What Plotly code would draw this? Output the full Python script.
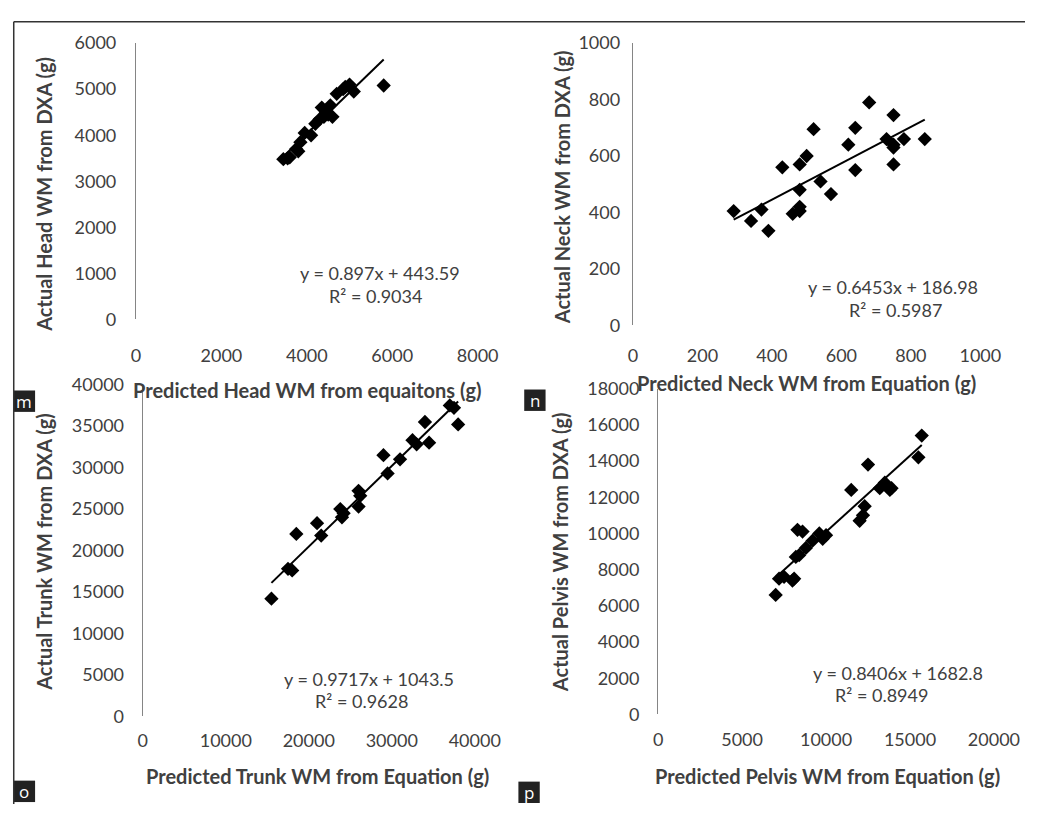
import plotly.graph_objects as go

W, H = 1051, 814

# ---------------- data ----------------
head_pred = [3450, 3550, 3600, 3750, 3800, 3850, 3950, 4100, 4200, 4300, 4350, 4400, 4450, 4500, 4550, 4600, 4700, 4850, 4900, 5000, 5100, 5800]
head_act = [3480, 3500, 3520, 3700, 3650, 3850, 4050, 4000, 4250, 4350, 4600, 4400, 4500, 4450, 4650, 4400, 4900, 5000, 5050, 5100, 4950, 5080]

neck_pred = [290, 340, 370, 390, 430, 460, 480, 480, 480, 480, 500, 520, 540, 570, 620, 640, 640, 680, 730, 750, 750, 750, 750, 780, 840]
neck_act = [405, 370, 410, 335, 560, 395, 480, 420, 405, 570, 600, 695, 510, 465, 640, 700, 550, 790, 660, 745, 640, 630, 570, 660, 660]

trunk_pred = [15500, 17500, 18000, 18500, 21000, 21500, 23800, 24000, 24200, 26000, 26000, 26200, 29000, 29500, 31000, 32500, 33000, 34000, 34500, 37000, 37500, 38000]
trunk_act = [14200, 17800, 17600, 22000, 23300, 21800, 25000, 24000, 24500, 27200, 25300, 26600, 31500, 29300, 31000, 33300, 32800, 35500, 33000, 37500, 37200, 35200]

pelvis_pred = [7000, 7200, 7500, 8000, 8100, 8200, 8300, 8400, 8600, 8800, 9200, 9600, 9800, 10000, 11500, 12000, 12200, 12300, 12500, 13200, 13500, 13800, 13900, 15500, 15700]
pelvis_act = [6600, 7500, 7600, 7400, 7500, 8700, 10200, 8800, 10100, 9200, 9600, 10000, 9700, 9900, 12400, 10700, 11000, 11500, 13800, 12500, 12800, 12400, 12500, 14200, 15400]

slopes = [0.897, 0.6453, 0.9717, 0.8406]
intercepts = [443.59, 186.98, 1043.5, 1682.8]
eq_texts = ["y = 0.897x + 443.59", "y = 0.6453x + 186.98", "y = 0.9717x + 1043.5", "y = 0.8406x + 1682.8"]
r2_texts = ["R² = 0.9034", "R² = 0.5987", "R² = 0.9628", "R² = 0.8949"]

x_titles = ["Predicted Head WM from equaitons (g)", "Predicted Neck WM from Equation (g)",
            "Predicted Trunk WM from Equation (g)", "Predicted Pelvis WM from Equation (g)"]
y_titles = ["Actual Head WM from DXA (g)", "Actual Neck WM from DXA (g)",
            "Actual Trunk WM from DXA (g)", "Actual Pelvis WM from DXA (g)"]
panel_tags = ["m", "n", "o", "p"]

x_ranges = [(0, 8000, 2000), (0, 1000, 200), (0, 40000, 10000), (0, 20000, 5000)]
y_ranges = [(0, 6000, 1000), (0, 1000, 200), (0, 40000, 5000), (0, 18000, 2000)]

xs = [head_pred, neck_pred, trunk_pred, pelvis_pred]
ys = [head_act, neck_act, trunk_act, pelvis_act]

# ---------------- layout geometry (pixels) ----------------
# (x0_px, x1_px, ybottom_px, ytop_px)
boxes = [(135, 487, 316, 32), (647, 1005, 322, 32), (142, 484, 724, 383), (673, 1019, 722, 387)]
x_standoff = [24, 18, 12, 13]
y_standoff = [15, 8, 14, 14]
ytitle_pos = [(40, 187), (574, 180), (40, 555), (572, 555)]
xtitle_pos = [(311, 388), (826, 381), (322, 785), (848, 785)]
eq_pos = [(386, 268), (915, 283), (375, 686), (920, 679)]
r2_pos = [(382, 292), (918, 306), (367, 708), (903, 702)]
tag_pos = [(20, 400), (546, 399), (20, 801), (540, 802)]

TXT = "#404040"
FONT = "Lato"

fig = go.Figure()
layout = dict(width=W, height=H, margin=dict(l=0, r=0, t=0, b=0),
              paper_bgcolor="white", plot_bgcolor="white", showlegend=False)

annotations = []
shapes = []

def px(x):
    return x / W

def py(y):
    return 1 - y / H

for i in range(4):
    sfx = "" if i == 0 else str(i + 1)
    xa, ya = "x" + sfx, "y" + sfx
    x0, x1, yb, yt = boxes[i]
    xr, yr = x_ranges[i], y_ranges[i]
    layout["xaxis" + sfx] = dict(domain=[px(x0), px(x1)], range=[xr[0], xr[1]], anchor=ya,
                                 tickmode="linear", tick0=xr[0], dtick=xr[2], tickformat="d",
                                 showgrid=False, zeroline=False, showline=False, ticks="",
                                 tickfont=dict(family=FONT, size=18, color=TXT),
                                 ticklabelstandoff=x_standoff[i])
    layout["yaxis" + sfx] = dict(domain=[py(yb), py(yt)], range=[yr[0], yr[1]], anchor=xa,
                                 tickmode="linear", tick0=yr[0], dtick=yr[2], tickformat="d",
                                 showgrid=False, zeroline=False, showline=True, linecolor="#858585",
                                 linewidth=1.3, ticks="",
                                 tickfont=dict(family=FONT, size=18, color=TXT),
                                 ticklabelstandoff=y_standoff[i])
    fig.add_trace(go.Scatter(x=xs[i], y=ys[i], mode="markers", xaxis=xa, yaxis=ya,
                             marker=dict(symbol="diamond", size=11, color="black")))
    lx = [min(xs[i]), max(xs[i])]
    ly = [slopes[i] * v + intercepts[i] for v in lx]
    fig.add_trace(go.Scatter(x=lx, y=ly, mode="lines", xaxis=xa, yaxis=ya,
                             line=dict(color="black", width=2)))
    annotations.append(dict(x=px(ytitle_pos[i][0]), y=py(ytitle_pos[i][1]), xref="paper", yref="paper",
                            xanchor="center", yanchor="middle",
                            text="<b>" + y_titles[i] + "</b>", textangle=-90, showarrow=False,
                            font=dict(family=FONT, size=20, color=TXT)))
    annotations.append(dict(x=px(xtitle_pos[i][0]), y=py(xtitle_pos[i][1]), xref="paper", yref="paper",
                            xanchor="center", yanchor="middle",
                            text="<b>" + x_titles[i] + "</b>", showarrow=False,
                            font=dict(family=FONT, size=20, color=TXT)))
    annotations.append(dict(x=px(eq_pos[i][0]), y=py(eq_pos[i][1]), xref="paper", yref="paper",
                            xanchor="center", yanchor="middle",
                            text=eq_texts[i], showarrow=False,
                            font=dict(family=FONT, size=18, color=TXT)))
    annotations.append(dict(x=px(r2_pos[i][0]), y=py(r2_pos[i][1]), xref="paper", yref="paper",
                            xanchor="center", yanchor="middle",
                            text=r2_texts[i], showarrow=False,
                            font=dict(family=FONT, size=18, color=TXT)))
    tx, ty = tag_pos[i]
    shapes.append(dict(type="rect", xref="paper", yref="paper",
                       x0=px(tx - 11), x1=px(tx + 11), y0=py(ty + 11), y1=py(ty - 11),
                       fillcolor="#222222", line=dict(width=0), layer="above"))
    annotations.append(dict(x=px(tx), y=py(ty), xref="paper", yref="paper", text=panel_tags[i],
                            xanchor="center", yanchor="middle",
                            showarrow=False, font=dict(family="Open Sans", size=17, color="white")))

# outer frame lines (top and left)
shapes.append(dict(type="line", xref="paper", yref="paper", x0=px(9), x1=1, y0=py(10), y1=py(10),
                   line=dict(color="#333333", width=1.5)))
shapes.append(dict(type="line", xref="paper", yref="paper", x0=px(9), x1=px(9), y0=0, y1=py(10),
                   line=dict(color="#333333", width=1.5)))

layout["annotations"] = annotations
layout["shapes"] = shapes
fig.update_layout(**layout)
fig.write_html("out.html")
